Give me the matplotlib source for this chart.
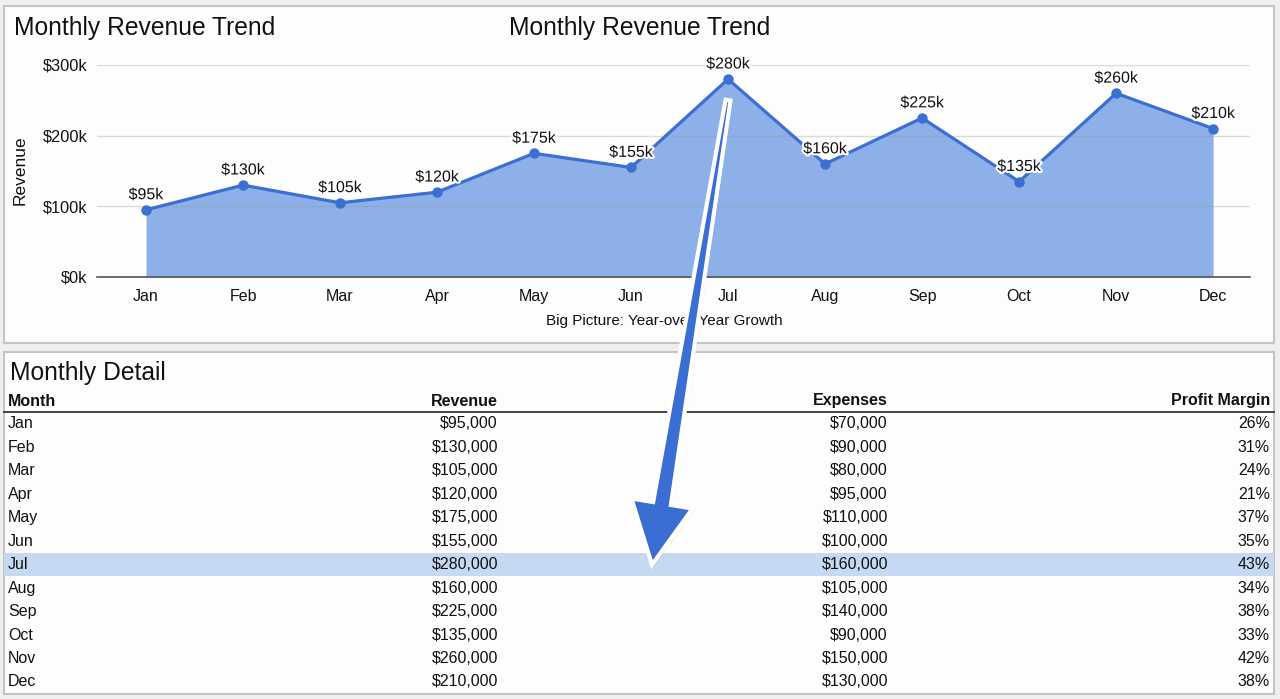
import matplotlib
matplotlib.use("Agg")
import matplotlib.pyplot as plt
import matplotlib.patheffects as pe
from matplotlib.patches import Rectangle, Polygon
from matplotlib.lines import Line2D
from matplotlib.ticker import FuncFormatter
import numpy as np

plt.rcParams['font.family'] = ['Liberation Sans', 'DejaVu Sans']

# ---------------- data ----------------
months = ["Jan", "Feb", "Mar", "Apr", "May", "Jun", "Jul", "Aug", "Sep", "Oct", "Nov", "Dec"]
revenue = [95000, 130000, 105000, 120000, 175000, 155000, 280000, 160000, 225000, 135000, 260000, 210000]
expenses = [70000, 90000, 80000, 95000, 110000, 100000, 160000, 105000, 140000, 90000, 150000, 130000]
margin_pct = [26, 31, 24, 21, 37, 35, 43, 34, 38, 33, 42, 38]
yticks = [0, 100000, 200000, 300000]
highlight_month = "Jul"

W, H = 1280, 699
fig = plt.figure(figsize=(W / 100, H / 100), dpi=100)
fig.patch.set_facecolor("#efefef")

def fx(px):
    return px / W

def fy(py):
    return 1 - py / H

# panels
for (x0, y0, x1, y1) in [(4, 6, 1274, 343), (4, 352, 1274, 694)]:
    fig.patches.append(Rectangle((fx(x0), fy(y1)), fx(x1) - fx(x0), fy(y0) - fy(y1),
                                 transform=fig.transFigure, facecolor="#fdfdfd",
                                 edgecolor="#c4c4c4", lw=1.5, zorder=-2))

# ---------------- chart ----------------
ax = fig.add_axes([fx(97), fy(277), fx(1250) - fx(97), fy(65) - fy(277)])
ax.set_facecolor("none")
x = np.arange(len(months))
line_col = "#3b6fd1"
ax.fill_between(x, revenue, 0, color="#8db0e8", zorder=1, lw=0)
ax.plot(x, revenue, color=line_col, lw=2.3, marker="o", ms=6.5, zorder=3)
for xi, v in zip(x, revenue):
    ax.annotate(f"${v // 1000}k", (xi, v), xytext=(0, 5.5), textcoords="offset points",
                ha="center", va="bottom", fontsize=11.5, color="#111111", zorder=5,
                path_effects=[pe.withStroke(linewidth=3, foreground="white")],
                annotation_clip=False)
ax.set_xlim(-0.505, 11.38)
ax.set_ylim(0, 300000)
ax.set_xticks(x)
ax.set_xticklabels(months, fontsize=11.5, color="#111111")
ax.set_yticks(yticks)
ax.yaxis.set_major_formatter(FuncFormatter(lambda v, p: f"${int(v // 1000)}k"))
ax.tick_params(axis="y", length=0, pad=7, labelsize=11.8, labelcolor="#111111")
ax.tick_params(axis="x", length=0, pad=9)
ax.grid(axis="y", color="#999999", alpha=0.35, lw=1, zorder=2)
ax.set_axisbelow(False)
for s in ["top", "right", "left"]:
    ax.spines[s].set_visible(False)
ax.spines["bottom"].set_color("#555555")
ax.spines["bottom"].set_linewidth(1.2)
ax.spines["bottom"].set_zorder(4)
ax.set_ylabel("Revenue", fontsize=12.5, color="#111111")
ax.yaxis.set_label_coords(-(97 - 28) / (1250 - 97), (277 - 170) / (277 - 65))

fig.text(fx(14), fy(28), "Monthly Revenue Trend", fontsize=17.7, color="#111111", va="center", ha="left")
fig.text(fx(640), fy(28), "Monthly Revenue Trend", fontsize=17.7, color="#111111", va="center", ha="center")
fig.text(fx(664), fy(321), "Big Picture: Year-over-Year Growth", fontsize=11, color="#111111",
         va="center", ha="center")

# ---------------- table ----------------
fig.text(fx(10), fy(373), "Monthly Detail", fontsize=17.7, color="#111111", va="center", ha="left")
hdr_y = 401
fig.text(fx(8), fy(hdr_y), "Month", fontsize=11.5, fontweight="bold", va="center", ha="left", color="#111111")
fig.text(fx(498), fy(hdr_y), "Revenue", fontsize=11.5, fontweight="bold", va="center", ha="right", color="#111111")
fig.text(fx(888), fy(hdr_y), "Expenses", fontsize=11.5, fontweight="bold", va="center", ha="right", color="#111111")
fig.text(fx(1270), fy(hdr_y), "Profit Margin", fontsize=11.5, fontweight="bold", va="center", ha="right", color="#111111")
fig.lines.append(Line2D([fx(4), fx(1274)], [fy(412), fy(412)], transform=fig.transFigure,
                        color="#333333", lw=1.3))

row0, dy = 424, 23.45
jul_row_y = None
for i, m in enumerate(months):
    ry = row0 + i * dy
    if m == highlight_month:
        jul_row_y = ry
        fig.patches.append(Rectangle((fx(4), fy(ry + 11.5)), fx(1274) - fx(4), (dy) / H,
                                     transform=fig.transFigure, facecolor="#c6d9f3",
                                     edgecolor="none", zorder=-1))
    fig.text(fx(8), fy(ry), m, fontsize=11.5, va="center", ha="left", color="#111111")
    fig.text(fx(498), fy(ry), f"${revenue[i]:,}", fontsize=11.5, va="center", ha="right", color="#111111")
    fig.text(fx(888), fy(ry), f"${expenses[i]:,}", fontsize=11.5, va="center", ha="right", color="#111111")
    fig.text(fx(1270), fy(ry), f"{margin_pct[i]}%", fontsize=11.5, va="center", ha="right", color="#111111")

# ---------------- arrow ----------------
fig.canvas.draw()
ji = months.index(highlight_month)
px, py = ax.transData.transform((x[ji], revenue[ji]))
S = np.array([px, py - 21])               # display coords, y up
T = np.array([652, H - jul_row_y])
d = T - S
L = np.hypot(*d)
u = d / L
n = np.array([-u[1], u[0]])
head_len, head_w = 62, 62
w0, w1 = 5, 18
B = T - u * head_len
pts = [S + n * w0 / 2, B + n * w1 / 2, B + n * head_w / 2, T,
       B - n * head_w / 2, B - n * w1 / 2, S - n * w0 / 2]
shadow = Polygon([p + np.array([2, -2]) for p in pts], closed=True, transform=None,
                 facecolor="#000000", alpha=0.07, edgecolor="none", zorder=9)
arrow = Polygon(pts, closed=True, transform=None, facecolor="#3a6ed2",
                edgecolor="white", lw=3, joinstyle="miter", zorder=10)
fig.patches.append(shadow)
fig.patches.append(arrow)

fig.savefig("out.png", dpi=100, facecolor=fig.get_facecolor())
